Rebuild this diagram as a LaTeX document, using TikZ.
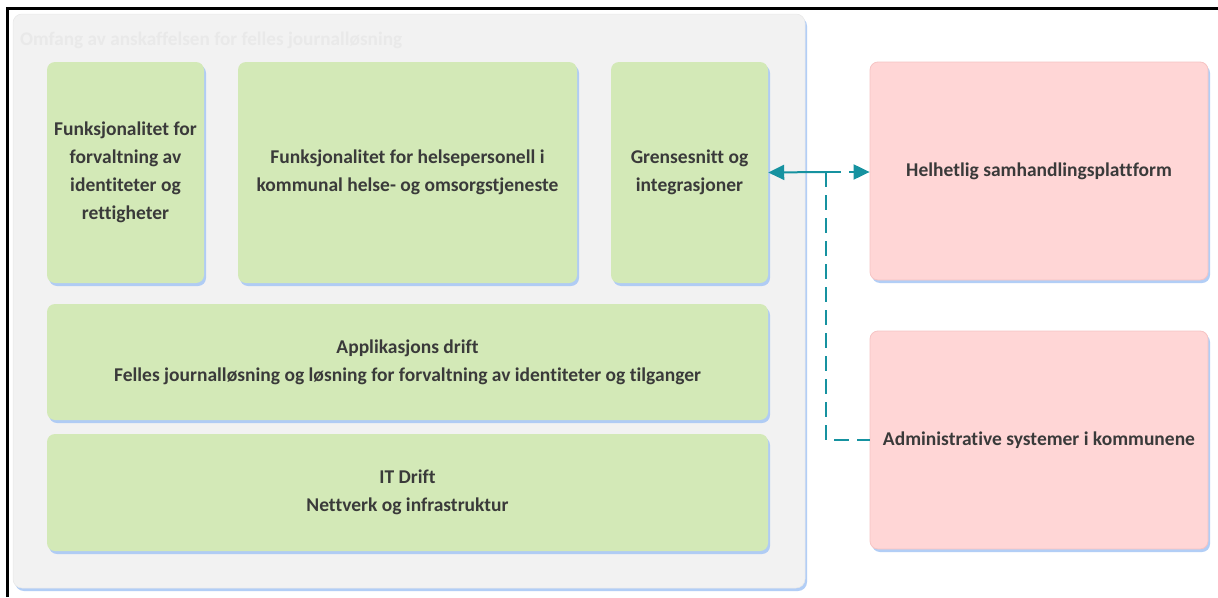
\documentclass[tikz,border=0pt]{standalone}
\usepackage{fontspec}
\setmainfont{Carlito}[Ligatures={NoCommon,NoContextual}]
\usetikzlibrary{shadows,arrows.meta,calc}
\definecolor{grn}{RGB}{211,233,183}
\definecolor{pnk}{RGB}{255,214,214}
\definecolor{pnkedge}{RGB}{246,196,196}
\definecolor{cont}{RGB}{242,242,242}
\definecolor{contedge}{RGB}{232,232,232}
\definecolor{shb}{RGB}{165,198,245}
\definecolor{txt}{RGB}{58,58,58}
\definecolor{tealc}{RGB}{22,146,160}
\definecolor{ttl}{RGB}{233,233,233}
\begin{document}
\begin{tikzpicture}[x=1pt,y=-1pt,
  shad/.style={drop shadow={shadow xshift=2pt, shadow yshift=-3pt, fill=shb, opacity=0.85}},
  basebox/.style={rounded corners=8pt, inner sep=0pt, text=txt, align=center,
    font=\bfseries\fontsize{19.5}{28}\selectfont, shad},
  gbox/.style={basebox, fill=grn},
  pbox/.style={basebox, fill=pnk, draw=pnkedge, line width=0.8pt},
  cbox/.style={rounded corners=9pt, inner sep=0pt, fill=cont, draw=contedge, line width=0.5pt, shad},
  conn/.style={draw=tealc, line width=2pt},
  dsh/.style={dash pattern=on 15pt off 8pt},
  tip/.style={-{Triangle[length=16pt,width=15pt]}}
]
\useasboundingbox (0,0) rectangle (1218,597);
\fill[white] (0,0) rectangle (1218,597);
\draw[line width=2.5pt] (7.5,597) -- (7.5,8.5) -- (1218,8.5);

\node[cbox, minimum width=792pt, minimum height=574pt] (c) at (409,301) {};
\node[anchor=base west, inner sep=0pt, text=ttl, font=\bfseries\fontsize{19.2}{24}\selectfont] (t) at (20,45) {Omfang av anskaffelsen for felles journalløsning};

\node[gbox, minimum width=157pt, minimum height=221pt] (b1) at (125.5,172.5) {Funksjonalitet for\\forvaltning av\\identiteter og\\rettigheter};
\node[gbox, minimum width=339pt, minimum height=221pt] (b2) at (407.5,172.5) {Funksjonalitet for helsepersonell i\\kommunal helse- og omsorgstjeneste};
\node[gbox, minimum width=157pt, minimum height=221pt] (b3) at (689.5,172.5) {Grensesnitt og\\integrasjoner};
\node[gbox, minimum width=721pt, minimum height=116pt] (b4) at (407.5,362) {Applikasjons drift\\Felles journalløsning og løsning for forvaltning av identiteter og tilganger};
\node[gbox, minimum width=721pt, minimum height=117pt] (b5) at (407.5,492.5) {IT Drift\\Nettverk og infrastruktur};

\node[pbox, minimum width=338pt, minimum height=218pt] (p1) at (1039,171) {Helhetlig samhandlingsplattform};
\node[pbox, minimum width=338pt, minimum height=218pt] (p2) at (1039,440) {Administrative systemer i kommunene};

\coordinate (j) at (826,172);
\draw[conn, tip] (j) -- (b3.east);
\draw[conn, dsh, tip] (j) -- (j -| p1.west);
\draw[conn, dsh] (j) |- (p2.west);
\end{tikzpicture}
\end{document}
